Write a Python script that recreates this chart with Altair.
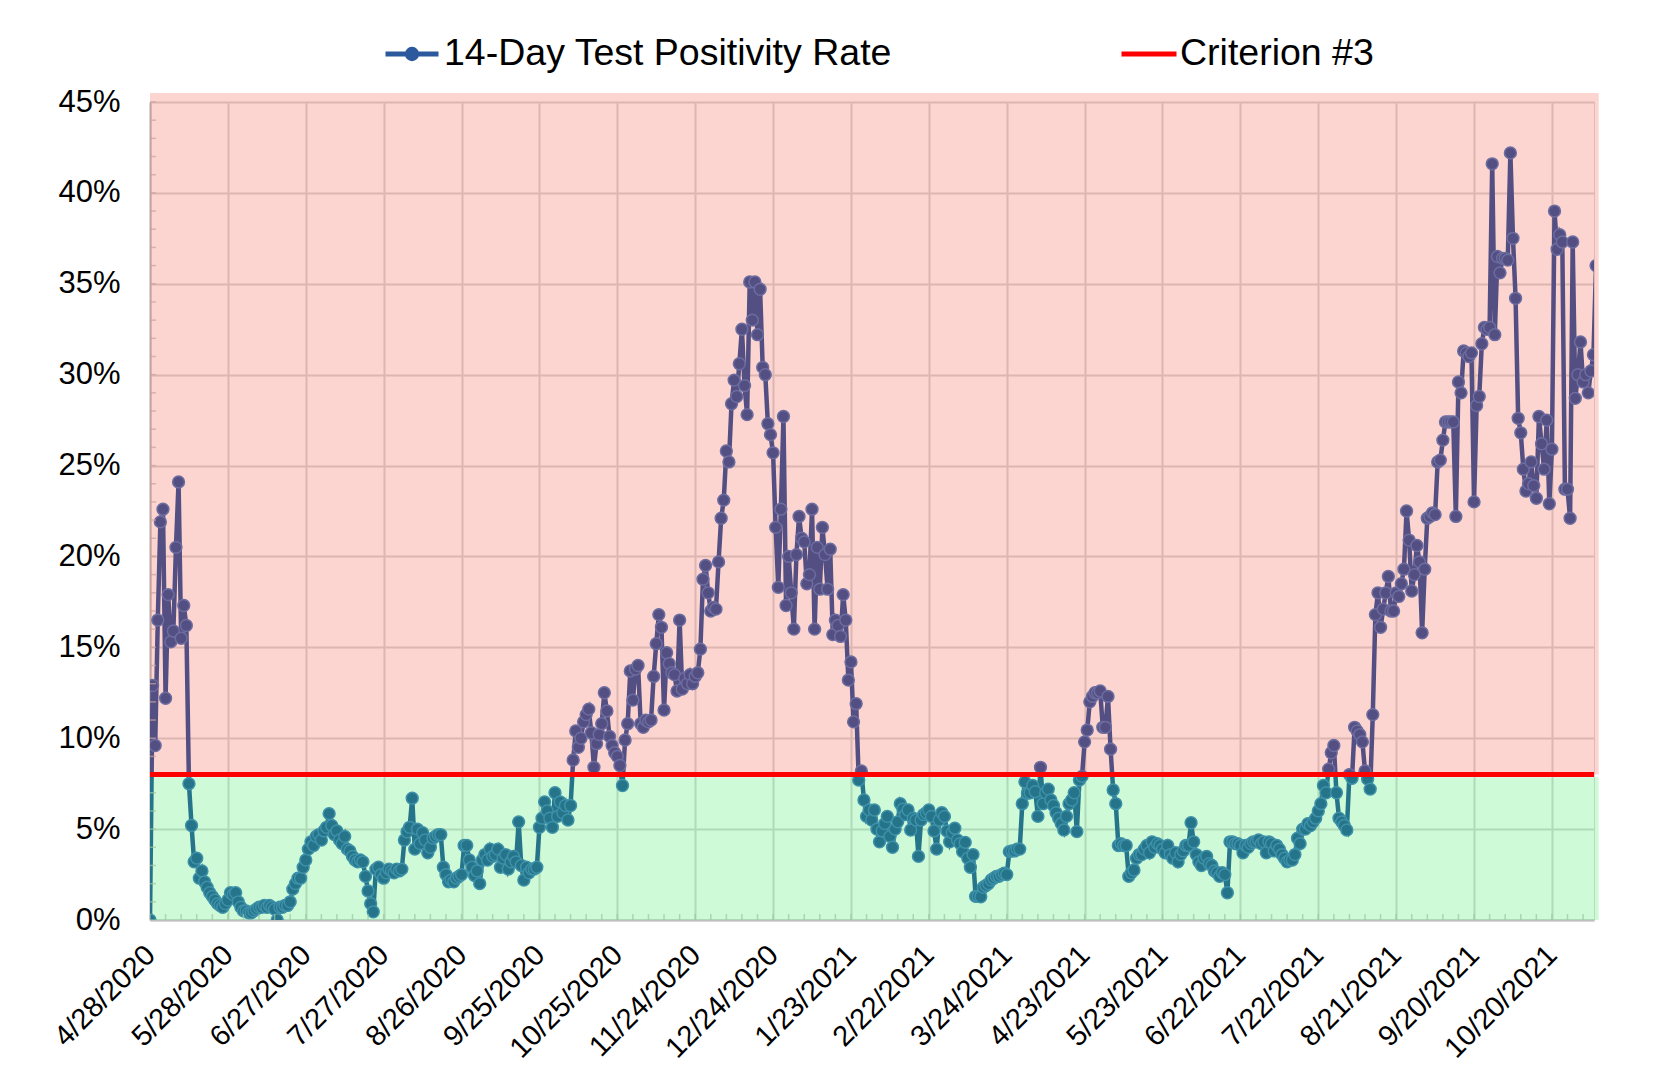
import altair as alt
import pandas as pd

START_DATE = "2020-04-28"
SERIES_NAME = "14-Day Test Positivity Rate"
CRITERION_NAME = "Criterion #3"
CRITERION = 8

RATE = [
    0, 12.9, 9.6, 16.5, 21.9, 22.6, 12.2, 17.9, 15.3, 15.9,
    20.5, 24.1, 15.5, 17.3, 16.2, 7.5, 5.2, 3.2, 3.4, 2.3,
    2.7, 2.1, 1.8, 1.5, 1.3, 1.1, 0.9, 0.8, 0.7, 0.9,
    1.1, 1.5, 1.4, 1.5, 1.0, 0.7, 0.5, 0.5, 0.4, 0.4,
    0.5, 0.6, 0.7, 0.7, 0.8, 0.7, 0.8, 0.7, 0.6, 0.0,
    0.7, 0.7, 0.8, 0.8, 1.0, 1.7, 2.0, 2.3, 2.3, 2.9,
    3.3, 3.9, 4.3, 4.1, 4.6, 4.7, 4.4, 4.9, 5.1, 5.85,
    5.2, 4.7, 4.9, 4.4, 4.2, 4.6, 3.9, 3.8, 3.5, 3.3,
    3.2, 3.3, 3.2, 2.4, 1.6, 0.9, 0.45, 2.8, 2.9, 2.5,
    2.3, 2.6, 2.8, 2.7, 2.6, 2.8, 2.7, 2.8, 4.4, 4.85,
    5.1, 6.7, 3.9, 5.0, 4.2, 4.8, 4.4, 3.7, 4.0, 4.5,
    4.6, 4.7, 4.7, 2.9, 2.5, 2.1, 2.2, 2.1, 2.3, 2.4,
    2.5, 4.1, 4.1, 3.3, 2.9, 2.45, 2.7, 2.0, 3.3, 3.6,
    3.3, 3.9, 3.5, 3.6, 3.9, 2.9, 3.4, 3.6, 2.8, 3.2,
    3.5, 3.2, 5.4, 3.0, 2.2, 2.9, 2.6, 2.8, 2.8, 2.9,
    5.1, 5.6, 6.5, 6.0, 5.6, 5.1, 7.0, 5.7, 6.5, 5.9,
    6.3, 5.5, 6.3, 8.8, 10.4, 9.5, 10.0, 10.9, 11.3, 11.6,
    10.3, 8.4, 9.7, 10.2, 10.8, 12.5, 11.5, 10.1, 9.6, 9.2,
    9.0, 8.5, 7.4, 9.9, 10.8, 13.7, 12.1, 13.8, 14.0, 10.8,
    10.6, 11.0, 10.9, 11.0, 13.4, 15.2, 16.8, 16.1, 11.55, 14.7,
    14.1, 13.6, 13.5, 12.6, 16.5, 12.7, 13.3, 13.0, 13.5, 13.0,
    13.4, 13.6, 14.9, 18.75, 19.5, 18.0, 17.0, 17.2, 17.1, 19.7,
    22.1, 23.1, 25.8, 25.2, 28.4, 29.7, 28.8, 30.6, 32.5, 29.4,
    27.8, 35.1, 33.0, 35.1, 32.2, 34.7, 30.4, 30.0, 27.3, 26.7,
    25.7, 21.6, 18.3, 22.6, 27.7, 17.3, 20.0, 18.0, 16.0, 20.1,
    22.2, 21.0, 20.8, 18.5, 19.0, 22.6, 16.0, 20.5, 18.2, 21.6,
    20.1, 18.2, 20.4, 15.7, 16.5, 16.2, 15.6, 17.9, 16.5, 13.2,
    14.2, 10.9, 11.9, 7.7, 8.2, 6.6, 5.7, 6.05, 5.5, 6.05,
    5.0, 4.3, 4.9, 5.3, 5.7, 4.6, 4.0, 5.0, 5.4, 6.4,
    6.1, 5.8, 6.05, 4.95, 5.6, 5.5, 3.5, 5.5, 5.8, 5.9,
    6.05, 5.7, 4.9, 3.9, 5.5, 5.9, 5.7, 4.9, 4.3, 4.8,
    5.05, 4.4, 4.2, 3.76, 4.27, 3.4, 2.9, 3.6, 1.3, 1.3,
    1.28, 1.8, 1.9, 2.0, 2.2, 2.3, 2.4, 2.4, 2.5, 2.57,
    2.5, 3.76, 3.8, 3.8, 3.9, 3.9, 6.4, 7.6, 6.97, 7.0,
    7.4, 7.06, 5.7, 8.4, 6.4, 7.0, 7.2, 6.6, 6.3, 5.9,
    5.6, 5.3, 4.95, 5.7, 6.4, 6.6, 7.0, 4.86, 7.7, 7.9,
    9.8, 10.45, 12.0, 12.3, 12.5, 12.5, 12.6, 10.6, 10.6, 12.3,
    9.4, 7.15, 6.4, 4.1, 4.2, 4.1, 4.1, 2.4, 2.6, 2.75,
    3.4, 3.6, 3.6, 3.9, 4.1, 3.7, 4.3, 4.0, 4.2, 4.1,
    3.9, 3.7, 4.1, 3.6, 3.4, 3.7, 3.2, 3.6, 3.8, 4.1,
    4.1, 5.35, 4.3, 3.6, 3.2, 3.0, 3.4, 3.5, 3.1, 3.0,
    2.7, 2.6, 2.4, 2.6, 2.5, 1.5, 4.3, 4.3, 4.2, 4.2,
    4.1, 3.7, 4.1, 4.0, 4.2, 4.3, 4.3, 4.4, 4.2, 4.3,
    3.7, 4.3, 4.2, 3.8, 4.1, 3.9, 3.6, 3.4, 3.2, 3.3,
    3.3, 3.6, 4.5, 4.2, 5.0, 5.0, 5.3, 5.2, 5.4, 5.6,
    6.0, 6.4, 7.4, 7.0, 8.3, 9.2, 9.6, 7.0, 5.6, 5.4,
    5.2, 4.95, 8.0, 7.8, 10.6, 10.4, 10.2, 9.8, 8.2, 7.75,
    7.2, 11.3, 16.8, 18.0, 16.1, 17.1, 18.0, 18.9, 17.0, 17.0,
    18.0, 17.8, 18.5, 19.3, 22.5, 20.9, 18.1, 19.0, 20.6, 19.7,
    15.8, 19.3, 22.1, 22.2, 22.4, 22.3, 25.2, 25.3, 26.4, 27.4,
    27.4, 27.4, 27.4, 22.2, 29.6, 29.0, 31.3, 31.2, 31.0, 31.2,
    23.0, 28.3, 28.8, 31.7, 32.6, 32.5, 32.6, 41.6, 32.2, 36.5,
    35.6, 36.4, 36.4, 36.3, 42.2, 37.5, 34.2, 27.6, 26.8, 24.8,
    23.6, 24.0, 25.2, 23.9, 23.2, 27.7, 26.2, 24.8, 27.5, 22.9,
    25.9, 39.0, 36.9, 37.7, 37.3, 23.7, 23.7, 22.1, 37.3, 28.7,
    30.0, 31.8, 29.6, 30.0, 29.0, 30.2, 31.1, 36.0,
]

TICK_DATES = [
    "2020-04-28", "2020-05-28", "2020-06-27", "2020-07-27", "2020-08-26",
    "2020-09-25", "2020-10-25", "2020-11-24", "2020-12-24", "2021-01-23",
    "2021-02-22", "2021-03-24", "2021-04-23", "2021-05-23", "2021-06-22",
    "2021-07-22", "2021-08-21", "2021-09-20", "2021-10-20",
]
X_END = "2021-11-05T05:00:00"
BAND_END = "2021-11-07"
Y_TICKS = [0, 5, 10, 15, 20, 25, 30, 35, 40, 45]
Y_MINOR = list(range(0, 46))
BAND_ZONES = ["above", "below"]
BAND_LO = [CRITERION, 0]
BAND_HI = [45.5, CRITERION - 0.15]

LINE_COLOR = "#2C589E"
MARKER_STROKE = "#4A7CC4"
AXIS_GRAY = "#BFBFBF"
FONT = "Liberation Sans"


def dt(s):
    t = pd.Timestamp(s)
    return alt.DateTime(year=t.year, month=t.month, date=t.day, hours=t.hour, utc=True)


dates = pd.date_range(START_DATE, periods=len(RATE), freq="D")
df = pd.DataFrame({
    "date": dates.strftime("%Y-%m-%d"),
    "rate": RATE,
    "series": SERIES_NAME,
})
minor_x_df = pd.DataFrame({"d": pd.date_range(START_DATE, X_END, freq="6D").strftime("%Y-%m-%d")})
minor_y_df = pd.DataFrame({"v": Y_MINOR})

bands = pd.DataFrame({
    "zone": BAND_ZONES, "lo": BAND_LO, "hi": BAND_HI,
    "x0": START_DATE, "x1": BAND_END,
})
rule_df = pd.DataFrame({"v": [CRITERION], "series": [CRITERION_NAME]})

x_scale = alt.Scale(type="utc", domain=[dt(START_DATE), dt(X_END)])
y_scale = alt.Scale(domain=[0, 45], nice=False, zero=True)

x_axis = alt.Axis(
    values=[dt(d) for d in TICK_DATES], format="%-m/%-d/%Y",
    labelAngle=-45, labelAlign="right", labelBaseline="middle",
    labelFontSize=29, labelFont=FONT, labelColor="black", labelPadding=30,
    labelLimit=400, labelOverlap=False, ticks=False,
    domain=True, domainColor=AXIS_GRAY, domainWidth=2,
    grid=True, gridColor="#D9D9D9", gridWidth=2, title=None, zindex=0,
)
y_axis = alt.Axis(
    values=Y_TICKS, labelExpr="datum.value + '%'",
    labelFontSize=31, labelFont=FONT, labelColor="black", labelPadding=30,
    ticks=False, domain=True, domainColor=AXIS_GRAY, domainWidth=2,
    grid=True, gridColor="#D9D9D9", gridWidth=2, title=None, zindex=0,
)

PATH = ("M-1,0L1,0"
        "M0.11,0A0.11,0.11,0,1,1,-0.11,0A0.11,0.11,0,1,1,0.11,0"
        "M0.175,0A0.175,0.175,0,1,1,-0.175,0A0.175,0.175,0,1,1,0.175,0")

line = alt.Chart(df).mark_line(strokeWidth=4.5, clip=True).encode(
    x=alt.X("date:T", scale=x_scale, axis=x_axis),
    y=alt.Y("rate:Q", scale=y_scale, axis=y_axis),
    color=alt.Color(
        "series:N",
        scale=alt.Scale(domain=[SERIES_NAME], range=[LINE_COLOR]),
        legend=alt.Legend(
            title=None, orient="none", legendX=233, legendY=-77,
            direction="horizontal", symbolType=PATH, symbolSize=2809,
            symbolStrokeWidth=5, symbolStrokeColor=LINE_COLOR,
            labelFontSize=37.5, labelFont=FONT, labelColor="black",
            labelOffset=3, labelLimit=800, padding=0,
        ),
    ),
)

points = alt.Chart(df).mark_point(
    filled=True, fill=LINE_COLOR, stroke=MARKER_STROKE, strokeWidth=1.5,
    size=140, opacity=1, clip=True,
).encode(x="date:T", y="rate:Q")

minor_y = alt.Chart(minor_y_df).mark_tick(
    color=AXIS_GRAY, size=6, thickness=1.5, orient="horizontal"
).encode(y="v:Q", x=alt.datum(dt(START_DATE)), xOffset=alt.value(3))

minor_x = alt.Chart(minor_x_df).mark_tick(
    color=AXIS_GRAY, size=6, thickness=1.5, orient="vertical"
).encode(x="d:T", y=alt.datum(0), yOffset=alt.value(-3))

band = alt.Chart(bands).mark_rect(opacity=0.2, clip=False).encode(
    x="x0:T", x2="x1:T", y="lo:Q", y2="hi:Q",
    fill=alt.Fill("zone:N", scale=alt.Scale(domain=BAND_ZONES, range=["#F52D14", "#0AE63C"]), legend=None),
)

rule = alt.Chart(rule_df).mark_rule(strokeWidth=5).encode(
    y="v:Q",
    stroke=alt.Stroke(
        "series:N",
        scale=alt.Scale(domain=[CRITERION_NAME], range=["#FF0000"]),
        legend=alt.Legend(
            title=None, orient="none", legendX=969, legendY=-78,
            direction="horizontal", symbolType="stroke", symbolSize=3025,
            symbolStrokeWidth=5, labelFontSize=37.5, labelFont=FONT,
            labelColor="black", labelOffset=1, labelLimit=800, padding=0,
        ),
    ),
)

chart = alt.layer(line, points, minor_y, minor_x, band, rule).properties(
    width=1444, height=818,
    autosize=alt.AutoSizeParams(type="none"),
    padding={"left": 142, "top": 94, "right": 50, "bottom": 145},
).configure_view(stroke=None).configure(background="white")

chart.save("out.html", embed_options={"renderer": "svg", "actions": False})
